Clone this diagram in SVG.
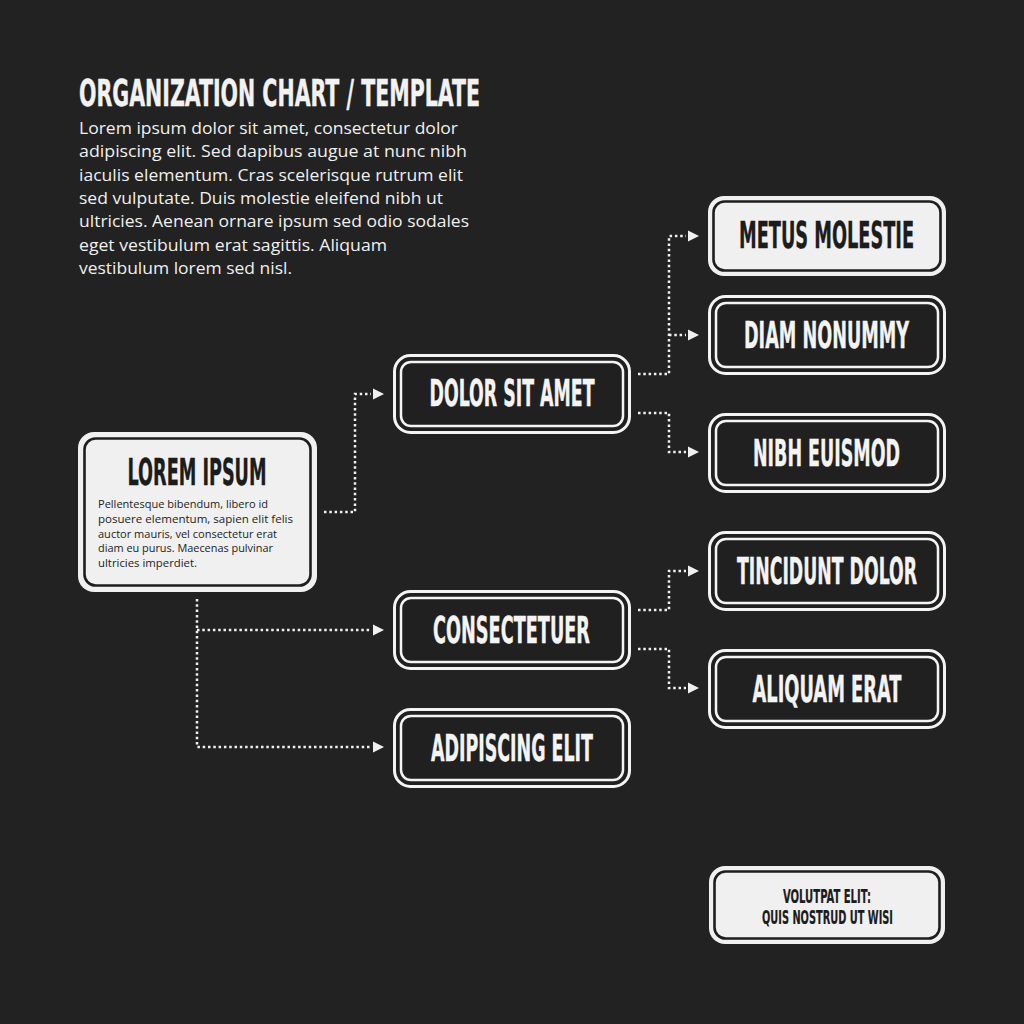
<svg xmlns="http://www.w3.org/2000/svg" width="1024" height="1024" viewBox="0 0 1024 1024">
<defs>
<style>
.bg{fill:#222222}
.title{font-family:"DejaVu Sans Condensed","DejaVu Sans","Liberation Sans",sans-serif;font-weight:bold;font-stretch:condensed;fill:#f2f2f2}
.body{font-family:"Open Sans","Noto Sans","Liberation Sans",sans-serif;fill:#f0f0f0;font-size:17px}
.lbl{font-family:"DejaVu Sans Condensed","DejaVu Sans","Liberation Sans",sans-serif;font-weight:bold;font-stretch:condensed;font-size:37px;text-anchor:middle}
.lbl-d{fill:#f4f4f4;stroke:#f4f4f4;stroke-width:0.4}
.lbl-l{fill:#1c1c1c;stroke:#1c1c1c;stroke-width:0.4}
.lbl-s{font-size:19px;stroke-width:0.2}
.small{font-family:"Open Sans","Noto Sans","Liberation Sans",sans-serif;fill:#222222;font-size:11.5px}
.d-out{fill:#202020;stroke:#f4f4f4;stroke-width:3}
.d-in{fill:none;stroke:#f4f4f4;stroke-width:2.5}
.l-out{fill:#f0f0f0;stroke:none}
.l-in{fill:none;stroke:#1e1e1e;stroke-width:2.6}
.dot{fill:none;stroke:#f0f0f0;stroke-width:2.5;stroke-dasharray:2.5 2.8}
</style>
<marker id="arr" markerUnits="userSpaceOnUse" markerWidth="14" markerHeight="12" refX="-2" refY="5.5" orient="auto" overflow="visible">
<path d="M0,0 L11,5.5 L0,11 Z" fill="#f0f0f0"/>
</marker>
</defs>
<rect class="bg" x="0" y="0" width="1024" height="1024"/>

<g id="header">
<text class="title" x="79" y="106" font-size="37" textLength="401" lengthAdjust="spacingAndGlyphs" stroke="#f2f2f2" stroke-width="0.4">ORGANIZATION CHART / TEMPLATE</text>
<text class="body" x="79" y="134" textLength="379" lengthAdjust="spacingAndGlyphs">Lorem ipsum dolor sit amet, consectetur dolor</text>
<text class="body" x="79" y="157.3" textLength="388" lengthAdjust="spacingAndGlyphs">adipiscing elit. Sed dapibus augue at nunc nibh</text>
<text class="body" x="79" y="180.6" textLength="384" lengthAdjust="spacingAndGlyphs">iaculis elementum. Cras scelerisque rutrum elit</text>
<text class="body" x="79" y="204" textLength="364" lengthAdjust="spacingAndGlyphs">sed vulputate. Duis molestie eleifend nibh ut</text>
<text class="body" x="79" y="227.3" textLength="390" lengthAdjust="spacingAndGlyphs">ultricies. Aenean ornare ipsum sed odio sodales</text>
<text class="body" x="79" y="250.6" textLength="308" lengthAdjust="spacingAndGlyphs">eget vestibulum erat sagittis. Aliquam</text>
<text class="body" x="79" y="274" textLength="213" lengthAdjust="spacingAndGlyphs">vestibulum lorem sed nisl.</text>
</g>

<g id="connectors">
<path class="dot" d="M324,512 H355 V394 H371" marker-end="url(#arr)"/>
<path class="dot" d="M197,599 V747 H371" marker-end="url(#arr)"/>
<path class="dot" d="M197,630 H371" marker-end="url(#arr)"/>
<path class="dot" d="M638,374 H669 V236 H686" marker-end="url(#arr)"/>
<path class="dot" d="M669,335 H686" marker-end="url(#arr)"/>
<path class="dot" d="M638,413 H669 V452 H686" marker-end="url(#arr)"/>
<path class="dot" d="M638,610 H669 V571 H686" marker-end="url(#arr)"/>
<path class="dot" d="M638,649 H669 V688 H686" marker-end="url(#arr)"/>
</g>

<g id="lorem-ipsum">
<rect class="l-out" x="78" y="432" width="239" height="160" rx="16"/>
<rect class="l-in" x="84.5" y="438.5" width="226" height="147" rx="11"/>
<text class="lbl lbl-l" x="197" y="485" textLength="139" lengthAdjust="spacingAndGlyphs">LOREM IPSUM</text>
<text class="small" x="98" y="508" textLength="170" lengthAdjust="spacingAndGlyphs">Pellentesque bibendum, libero id</text>
<text class="small" x="98" y="522.7" textLength="195" lengthAdjust="spacingAndGlyphs">posuere elementum, sapien elit felis</text>
<text class="small" x="98" y="537.5" textLength="179" lengthAdjust="spacingAndGlyphs">auctor mauris, vel consectetur erat</text>
<text class="small" x="98" y="552.2" textLength="175" lengthAdjust="spacingAndGlyphs">diam eu purus. Maecenas pulvinar</text>
<text class="small" x="98" y="567" textLength="99" lengthAdjust="spacingAndGlyphs">ultricies imperdiet.</text>
</g>

<g id="dolor-sit-amet">
<rect class="d-out" x="394.5" y="355.5" width="235" height="77" rx="16"/>
<rect class="d-in" x="401" y="362" width="222" height="64" rx="10"/>
<text class="lbl lbl-d" x="512" y="406" textLength="165" lengthAdjust="spacingAndGlyphs">DOLOR SIT AMET</text>
</g>

<g id="consectetuer">
<rect class="d-out" x="394.5" y="591.5" width="235" height="77" rx="16"/>
<rect class="d-in" x="401" y="598" width="222" height="64" rx="10"/>
<text class="lbl lbl-d" x="511.5" y="643" textLength="157" lengthAdjust="spacingAndGlyphs">CONSECTETUER</text>
</g>

<g id="adipiscing-elit">
<rect class="d-out" x="394.5" y="709.5" width="235" height="77" rx="16"/>
<rect class="d-in" x="401" y="716" width="222" height="64" rx="10"/>
<text class="lbl lbl-d" x="512" y="761" textLength="162" lengthAdjust="spacingAndGlyphs">ADIPISCING ELIT</text>
</g>

<g id="metus-molestie">
<rect class="l-out" x="708" y="196" width="238" height="80" rx="16"/>
<rect class="l-in" x="713.5" y="201.5" width="227" height="69" rx="11"/>
<text class="lbl lbl-l" x="826.5" y="248" textLength="175" lengthAdjust="spacingAndGlyphs">METUS MOLESTIE</text>
</g>

<g id="diam-nonummy">
<rect class="d-out" x="709.5" y="296.5" width="235" height="77" rx="16"/>
<rect class="d-in" x="716" y="303" width="222" height="64" rx="10"/>
<text class="lbl lbl-d" x="826.5" y="348" textLength="165" lengthAdjust="spacingAndGlyphs">DIAM NONUMMY</text>
</g>

<g id="nibh-euismod">
<rect class="d-out" x="709.5" y="414.5" width="235" height="77" rx="16"/>
<rect class="d-in" x="716" y="421" width="222" height="64" rx="10"/>
<text class="lbl lbl-d" x="826.5" y="466" textLength="147" lengthAdjust="spacingAndGlyphs">NIBH EUISMOD</text>
</g>

<g id="tincidunt-dolor">
<rect class="d-out" x="709.5" y="532.5" width="235" height="77" rx="16"/>
<rect class="d-in" x="716" y="539" width="222" height="64" rx="10"/>
<text class="lbl lbl-d" x="827" y="584" textLength="180" lengthAdjust="spacingAndGlyphs">TINCIDUNT DOLOR</text>
</g>

<g id="aliquam-erat">
<rect class="d-out" x="709.5" y="650.5" width="235" height="77" rx="16"/>
<rect class="d-in" x="716" y="657" width="222" height="64" rx="10"/>
<text class="lbl lbl-d" x="827" y="702" textLength="149" lengthAdjust="spacingAndGlyphs">ALIQUAM ERAT</text>
</g>

<g id="volutpat-elit">
<rect class="l-out" x="709" y="866" width="236" height="78" rx="16"/>
<rect class="l-in" x="714.5" y="871.5" width="225" height="67" rx="11"/>
<text class="lbl lbl-l lbl-s" x="827" y="903" textLength="88" lengthAdjust="spacingAndGlyphs">VOLUTPAT ELIT:</text>
<text class="lbl lbl-l lbl-s" x="827.5" y="924" textLength="131" lengthAdjust="spacingAndGlyphs">QUIS NOSTRUD UT WISI</text>
</g>
</svg>
